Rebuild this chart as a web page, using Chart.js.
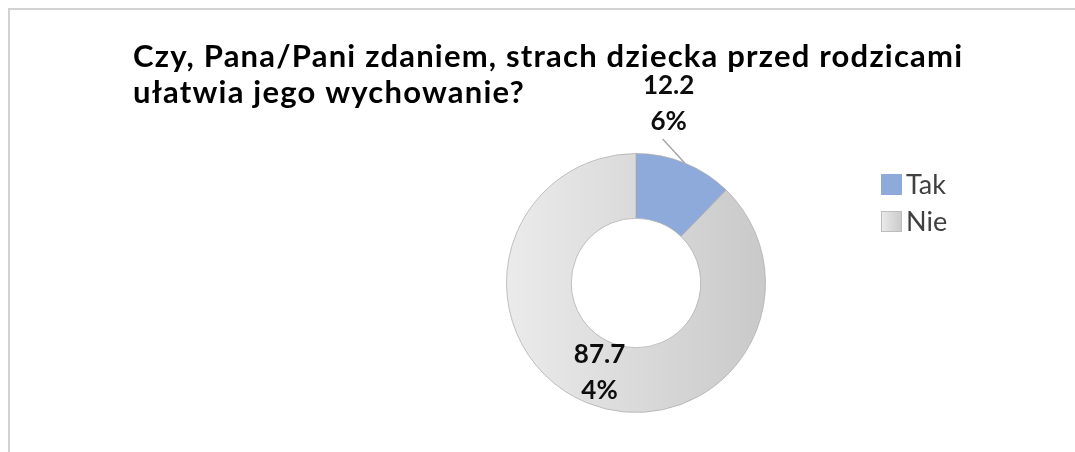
<!DOCTYPE html>
<html>
<head>
<meta charset="utf-8">
<script src="https://cdn.jsdelivr.net/npm/chart.js@4.4.1/dist/chart.umd.min.js"></script>
<style>
  html, body { margin: 0; padding: 0; background: #fff; }
  #wrap { position: relative; width: 1075px; height: 452px; overflow: hidden; }
  #frame { position: absolute; left: 8px; top: 8px; right: -4px; bottom: -4px;
           border-left: 2px solid #d2d2d2; border-top: 2px solid #d2d2d2; }
  canvas { position: absolute; left: 0; top: 0; }
</style>
</head>
<body>
<div id="wrap">
  <div id="frame"></div>
  <canvas id="donut" width="1075" height="452"></canvas>
</div>
<script>
// chart data
const titleLines = ['Czy, Pana/Pani zdaniem, strach dziecka przed rodzicami', 'ułatwia jego wychowanie?'];
const categories = ['Tak', 'Nie'];
const percents = [12.26, 87.74];

const takColor = '#8eaadb';
const nieStops = ['#ebebeb', '#c9c9c9'];

function nieGradient(ctx, x0, x1) {
  const g = ctx.createLinearGradient(x0, 0, x1, 0);
  g.addColorStop(0, nieStops[0]);
  g.addColorStop(1, nieStops[1]);
  return g;
}

// wraps "12.26%" the way the picture does: "12.2" / "6%"
function labelLines(v) {
  const s = v.toFixed(2) + '%';
  return [s.slice(0, 4), s.slice(4)];
}

const overlay = {
  id: 'overlay',
  afterDatasetsDraw(chart) {
    const ctx = chart.ctx;
    const arcs = chart.getDatasetMeta(0).data;
    ctx.save();
    arcs.forEach((arc, i) => {
      const mid = (arc.startAngle + arc.endAngle) / 2;
      let cx, cy;
      if (i === 0) {
        // outside label with leader line
        const ox = arc.x + Math.cos(mid) * arc.outerRadius;
        const oy = arc.y + Math.sin(mid) * arc.outerRadius;
        ctx.strokeStyle = '#a6a6a6';
        ctx.lineWidth = 1.5;
        ctx.beginPath();
        ctx.moveTo(ox, oy);
        ctx.lineTo(ox - 22, oy - 24);
        ctx.stroke();
        cx = ox - 16;
        cy = oy - 59;
      } else {
        const r = (arc.innerRadius + arc.outerRadius) / 2;
        cx = arc.x + Math.cos(mid) * r;
        cy = arc.y + Math.sin(mid) * r;
      }
      const lines = labelLines(percents[i]);
      ctx.fillStyle = '#0d0d0d';
      ctx.font = 'bold 26px Lato';
      ctx.textAlign = 'center';
      ctx.textBaseline = 'middle';
      ctx.fillText(lines[0], cx, cy - 18);
      ctx.fillText(lines[1], cx, cy + 18);
    });
    ctx.restore();
  },
  afterDraw(chart) {
    const ctx = chart.ctx;
    ctx.save();
    // title
    ctx.fillStyle = '#000';
    ctx.font = 'bold 31px Lato';
    ctx.letterSpacing = '1.2px';
    ctx.textAlign = 'left';
    ctx.textBaseline = 'alphabetic';
    titleLines.forEach((t, i) => ctx.fillText(t, 133, 67 + i * 36));
    ctx.letterSpacing = '0px';
    // legend
    ctx.font = '27px Lato';
    ctx.textBaseline = 'middle';
    categories.forEach((c, i) => {
      const y = 184 + i * 37;
      ctx.fillStyle = i === 0 ? takColor : nieGradient(ctx, 881, 902);
      ctx.fillRect(881, y - 10, 21, 21);
      if (i === 1) {
        ctx.strokeStyle = '#bdbdbd';
        ctx.lineWidth = 1;
        ctx.strokeRect(881.5, y - 9.5, 20, 20);
      }
      ctx.fillStyle = '#404040';
      ctx.fillText(c, 906, y + 1);
    });
    ctx.restore();
  }
};

new Chart(document.getElementById('donut'), {
  type: 'doughnut',
  data: {
    labels: categories,
    datasets: [{
      data: percents,
      backgroundColor(c) {
        const a = c.chart.chartArea;
        if (!a) return takColor;
        return c.dataIndex === 0 ? takColor : nieGradient(c.chart.ctx, a.left, a.right);
      },
      borderColor: 'rgba(170,170,170,0.7)',
      borderWidth: 1
    }]
  },
  options: {
    responsive: false,
    animation: false,
    events: [],
    cutout: '50%',
    layout: { padding: { left: 506, right: 309, top: 153, bottom: 39 } },
    plugins: {
      legend: { display: false },
      title: { display: false },
      tooltip: { enabled: false }
    }
  },
  plugins: [overlay]
});
</script>
</body>
</html>
